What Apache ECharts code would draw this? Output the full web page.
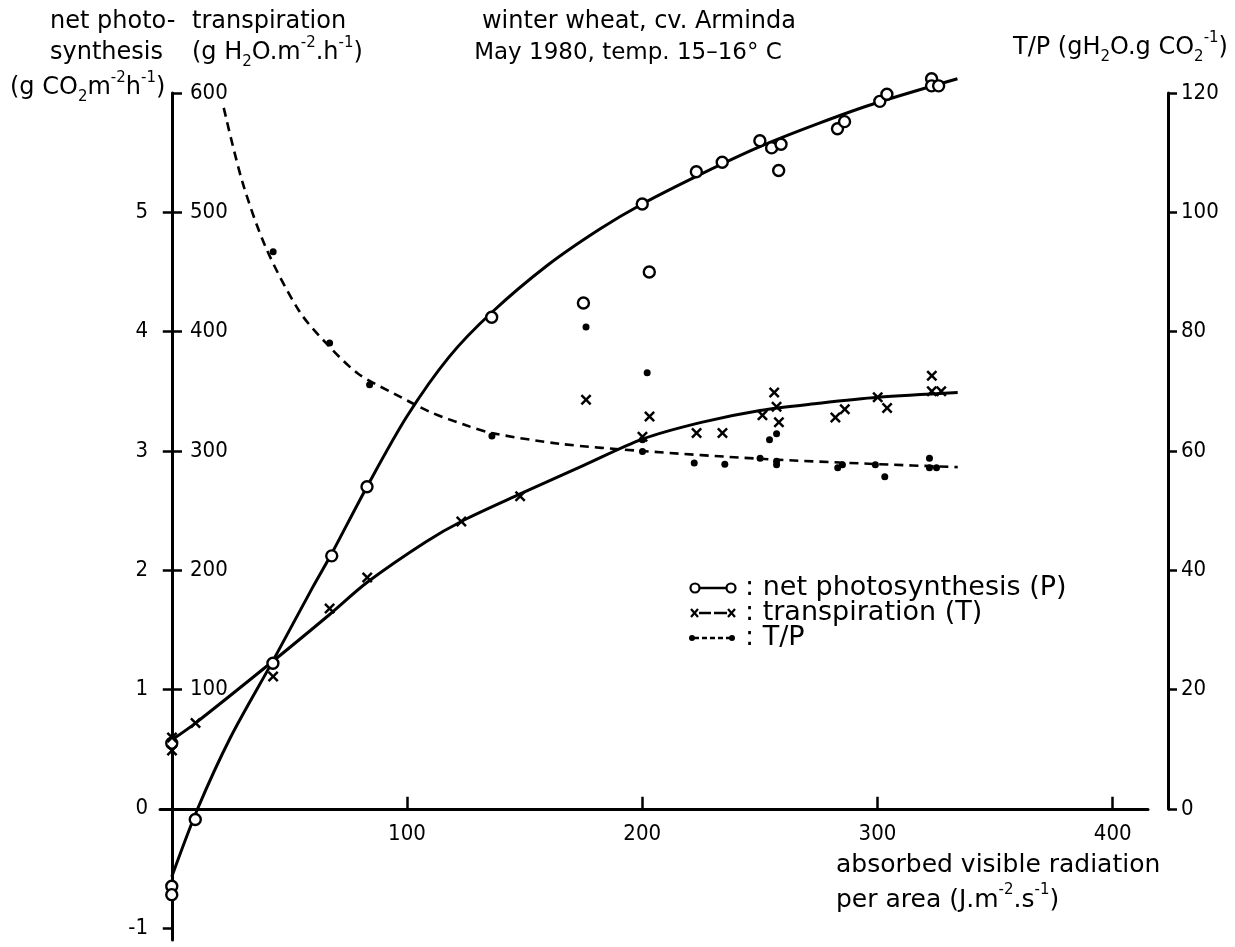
<!DOCTYPE html>
<html><head><meta charset="utf-8">
<script src="https://cdn.jsdelivr.net/npm/echarts@6/dist/echarts.min.js"></script>
<style>html,body{margin:0;padding:0;background:#fff}#c{width:1235px;height:947px}</style>
</head><body><div id="c"></div>
<script>
// ---------- data ----------
const xTickValues = [100, 200, 300, 400];
const pTickValues = [-1, 0, 1, 2, 3, 4, 5];

// net photosynthesis P (g CO2 m-2 h-1), open circles
const pPointX = [0, 0, 0, 10, 43, 68, 83, 136, 175, 200, 203, 223, 234, 250, 255, 258, 259, 283, 286, 301, 304, 323, 323, 326];
const pPointY = [0.55, -0.65, -0.72, -0.09, 1.22, 2.12, 2.7, 4.12, 4.24, 5.07, 4.5, 5.34, 5.42, 5.6, 5.54, 5.35, 5.57, 5.7, 5.76, 5.93, 5.99, 6.12, 6.06, 6.06];
// fitted P curve
const pCurveX = [0, 11, 25, 43, 60, 68, 83, 100, 118, 136, 160, 182, 200, 225, 250, 275, 300, 334];
const pCurveY = [-0.57, 0.0, 0.6, 1.24, 1.86, 2.14, 2.7, 3.29, 3.79, 4.16, 4.56, 4.86, 5.07, 5.32, 5.55, 5.745, 5.92, 6.12];

// transpiration T (g H2O m-2 h-1), crosses
const tPointX = [0, 0, 10, 43, 67, 83, 123, 148, 176, 200, 203, 223, 234, 251, 256, 257, 258, 282, 286, 300, 304, 323, 323, 327];
const tPointY = [60, 49, 72, 111, 168, 194, 241, 262, 343, 312, 329, 315, 315, 330, 349, 337, 324, 328, 335, 345, 336, 363, 350, 350];
// fitted T curve
const tCurveX = [0, 10, 43, 67, 83, 108, 124, 148, 175, 200, 225, 250, 275, 300, 334];
const tCurveY = [58, 72, 124, 163, 190, 224, 242, 264, 288, 310, 324, 334, 340, 345, 349];

// T/P ratio (g H2O g CO2-1), dots
const rPointX = [43, 67, 84, 136, 176, 200, 200, 202, 222, 235, 250, 254, 257, 257, 257, 283, 285, 299, 303, 322, 322, 325];
const rPointY = [93.4, 78.1, 71.1, 62.5, 80.8, 61.9, 59.9, 73.1, 58, 57.8, 58.8, 61.9, 62.9, 58.3, 57.7, 57.2, 57.7, 57.7, 55.7, 58.8, 57.2, 57.2];
// fitted T/P curve
const rCurveX = [22, 30, 40, 54, 65, 79, 95, 110, 125, 136, 165, 200, 250, 300, 334];
const rCurveY = [117.5, 105, 94, 83.5, 78.3, 73, 69.5, 66.5, 64.3, 63, 61.2, 60, 58.7, 57.8, 57.3];

const zip = (xs, ys) => xs.map((x, i) => [x, ys[i]]);

// ---------- styling ----------
const TXT = 'DejaVu Sans';
const NUM = '"DejaVu Sans Condensed", "DejaVu Sans"';
function makeRich(fs) {
  return {
    n: { fontFamily: TXT, fontSize: fs, lineHeight: 34, fill: '#000' },
    p: { fontFamily: TXT, fontSize: 15, lineHeight: 15, verticalAlign: 'top', fill: '#000' },
    b: { fontFamily: TXT, fontSize: 15, lineHeight: 15, verticalAlign: 'bottom', fill: '#000' }
  };
}
function label(x, y, text, align, fs) {
  fs = fs || 24;
  return { type: 'text', x: x, y: y, silent: true,
    style: { text: text, rich: makeRich(fs), fill: '#000', fontFamily: TXT, fontSize: fs,
      align: align || 'left', verticalAlign: 'middle' } };
}
const crossPath = 'path://M0,1.6L1.6,0L5,3.4L8.4,0L10,1.6L6.6,5L10,8.4L8.4,10L5,6.6L1.6,10L0,8.4L3.4,5Z';
const LW = 3;

const graphics = [
  label(50, 22, '{n|net photo-}'),
  label(50, 53, '{n|synthesis}'),
  label(10, 88, '{n|(g CO}{b|2}{n|m}{p|-2}{n|h}{p|-1}{n|)}'),
  label(192, 22, '{n|transpiration}'),
  label(192, 53, '{n|(g H}{b|2}{n|O.m}{p|-2}{n|.h}{p|-1}{n|)}'),
  label(639, 22, '{n|winter wheat, cv. Arminda}', 'center'),
  label(628, 53, '{n|May 1980, temp. 15–16° C}', 'center', 23),
  label(1013, 48, '{n|T/P (gH}{b|2}{n|O.g CO}{b|2}{p|-1}{n|)}'),
  label(836, 865, '{n|absorbed visible radiation}', 'left', 25),
  label(836, 900, '{n|per area (J.m}{p|-2}{n|.s}{p|-1}{n|)}', 'left', 25),
  // legend
  { type: 'line', shape: { x1: 699, y1: 588, x2: 727, y2: 588 }, style: { stroke: '#000', lineWidth: 2.5 } },
  { type: 'circle', shape: { cx: 695, cy: 588, r: 4.5 }, style: { fill: '#fff', stroke: '#000', lineWidth: 2.2 } },
  { type: 'circle', shape: { cx: 731, cy: 588, r: 4.5 }, style: { fill: '#fff', stroke: '#000', lineWidth: 2.2 } },
  label(745, 588, '{n|: net photosynthesis (P)}', 'left', 27),
  { type: 'line', shape: { x1: 699, y1: 613, x2: 711, y2: 613 }, style: { stroke: '#000', lineWidth: 2.5 } },
  { type: 'line', shape: { x1: 714, y1: 613, x2: 727, y2: 613 }, style: { stroke: '#000', lineWidth: 2.5 } },
  { type: 'line', shape: { x1: 691, y1: 609, x2: 698, y2: 617 }, style: { stroke: '#000', lineWidth: 2.2 } },
  { type: 'line', shape: { x1: 691, y1: 617, x2: 698, y2: 609 }, style: { stroke: '#000', lineWidth: 2.2 } },
  { type: 'line', shape: { x1: 728, y1: 609, x2: 735, y2: 617 }, style: { stroke: '#000', lineWidth: 2.2 } },
  { type: 'line', shape: { x1: 728, y1: 617, x2: 735, y2: 609 }, style: { stroke: '#000', lineWidth: 2.2 } },
  label(745, 613, '{n|: transpiration (T)}', 'left', 27),
  { type: 'line', shape: { x1: 694, y1: 638, x2: 730, y2: 638 }, style: { stroke: '#000', lineWidth: 2.5, lineDash: [5, 3] } },
  { type: 'circle', shape: { cx: 692, cy: 638, r: 3 }, style: { fill: '#000' } },
  { type: 'circle', shape: { cx: 732, cy: 638, r: 3 }, style: { fill: '#000' } },
  label(745, 638, '{n|: T/P}', 'left', 27)
];

const axisLineStyle = { color: '#000', width: LW };
const tickLabel = { color: '#000', fontFamily: NUM, fontSize: 22 };
const gridBase = { containLabel: false, outerBoundsMode: 'none' };

const option = {
  animation: false,
  backgroundColor: '#fff',
  grid: [
    Object.assign({ left: 160, right: 87, top: 93, bottom: 7 }, gridBase),
    Object.assign({ left: 172, right: 67, top: 93, bottom: 138 }, gridBase),
    Object.assign({ left: 160, right: 87, top: 93, bottom: 138 }, gridBase)
  ],
  xAxis: [
    { type: 'value', gridIndex: 0, min: -5, max: 415,
      axisLine: { show: true, onZero: true, onZeroAxisIndex: 0, lineStyle: axisLineStyle },
      axisTick: { show: true, inside: true, length: 12, customValues: xTickValues, lineStyle: { color: '#000', width: 2.5 } },
      axisLabel: { show: false },
      splitLine: { show: false } },
    { type: 'value', gridIndex: 1, min: 0, max: 423.4, show: false, splitLine: { show: false } },
    { type: 'value', gridIndex: 2, min: -5, max: 415,
      axisLine: { show: false }, axisTick: { show: false },
      axisLabel: { show: true, margin: 14, customValues: xTickValues, ...tickLabel },
      splitLine: { show: false } }
  ],
  yAxis: [
    { type: 'value', gridIndex: 0, position: 'left', min: -1.1, max: 6,
      axisLine: { show: true, onZero: true, onZeroAxisIndex: 0, lineStyle: axisLineStyle },
      axisTick: { show: true, inside: false, length: 9, customValues: pTickValues, lineStyle: { color: '#000', width: 2.5 } },
      axisLabel: { show: true, margin: 12, customValues: pTickValues, ...tickLabel },
      splitLine: { show: false } },
    { type: 'value', gridIndex: 1, position: 'left', min: 0, max: 600, interval: 100,
      axisLine: { show: false, onZero: false },
      axisTick: { show: true, inside: true, length: 10, lineStyle: { color: '#000', width: 2.5 } },
      axisLabel: { show: true, inside: true, margin: 18, ...tickLabel,
        formatter: v => (v === 0 ? '' : String(v)) },
      splitLine: { show: false } },
    { type: 'value', gridIndex: 1, position: 'right', min: 0, max: 120, interval: 20,
      axisLine: { show: true, onZero: false, lineStyle: axisLineStyle },
      axisTick: { show: true, inside: false, length: 9, lineStyle: { color: '#000', width: 2.5 } },
      axisLabel: { show: true, margin: 13, ...tickLabel },
      splitLine: { show: false } },
    { type: 'value', gridIndex: 2, min: 0, max: 1, show: false, splitLine: { show: false } }
  ],
  series: [
    { type: 'line', xAxisIndex: 0, yAxisIndex: 0, data: zip(pCurveX, pCurveY), smooth: 0.3, clip: false,
      showSymbol: false, lineStyle: { color: '#000', width: LW }, z: 2 },
    { type: 'line', xAxisIndex: 1, yAxisIndex: 1, data: zip(tCurveX, tCurveY), smooth: 0.3, clip: false,
      showSymbol: false, lineStyle: { color: '#000', width: LW }, z: 2 },
    { type: 'line', xAxisIndex: 1, yAxisIndex: 2, data: zip(rCurveX, rCurveY), smooth: 0.3, clip: false,
      showSymbol: false, lineStyle: { color: '#000', width: 2.6, type: [9, 6] }, z: 2 },
    { type: 'scatter', xAxisIndex: 0, yAxisIndex: 0, data: zip(pPointX, pPointY), symbol: 'circle', symbolSize: 11, clip: false,
      itemStyle: { color: '#fff', borderColor: '#000', borderWidth: 2.4, opacity: 1 }, z: 5 },
    { type: 'scatter', xAxisIndex: 1, yAxisIndex: 1, data: zip(tPointX, tPointY), symbol: crossPath, symbolSize: 11, clip: false,
      itemStyle: { color: '#000', opacity: 1 }, z: 5 },
    { type: 'scatter', xAxisIndex: 1, yAxisIndex: 2, data: zip(rPointX, rPointY), symbol: 'circle', symbolSize: 7, clip: false,
      itemStyle: { color: '#000', opacity: 1 }, z: 5 }
  ],
  graphic: graphics
};

const chart = echarts.init(document.getElementById('c'), null, { renderer: 'canvas' });
chart.setOption(option);
</script>
</body></html>
